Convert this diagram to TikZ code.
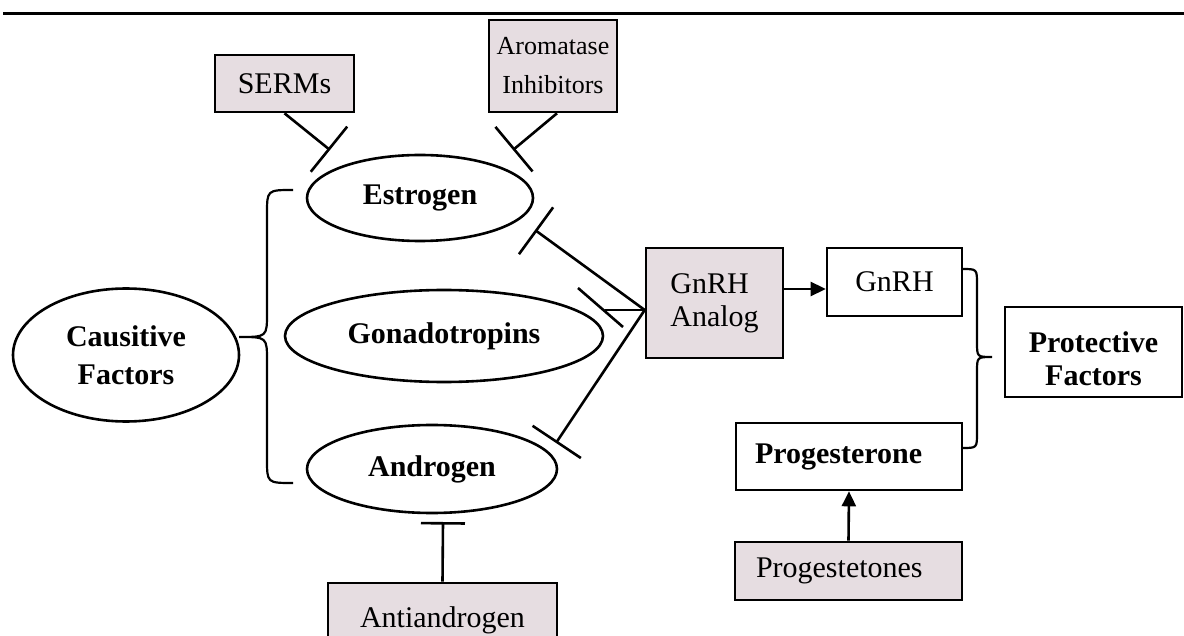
\documentclass[tikz,border=0pt]{standalone}
\usepackage{fontspec}
\setmainfont{Liberation Serif}
\usetikzlibrary{shapes.geometric,arrows.meta}
\definecolor{boxpink}{RGB}{230,221,225}
\begin{document}
\begin{tikzpicture}[x=0.5pt,y=-0.5pt, line width=1.3pt,
  pinkbox/.style={draw, fill=boxpink, rectangle, inner sep=0pt, align=center, font=\fontsize{15}{16.5}\selectfont},
  whitebox/.style={draw, fill=white, rectangle, inner sep=0pt, align=center, font=\fontsize{15}{16.5}\selectfont\bfseries},
  oval/.style={draw, ellipse, inner sep=0pt, align=center, font=\fontsize{15}{19}\selectfont\bfseries},
  inhib/.style={-{Bar[width=29pt]}},
  act/.style={-{Triangle[length=7.5pt,width=7pt]}},
  bracepath/.style={line width=1.1pt}]
\useasboundingbox (0,0) rectangle (1184,636);
\clip (0,0) rectangle (1184,636);

% top rule
\coordinate (r1) at (3,14);
\coordinate (r2) at (1184,14);
\draw[line width=1.5pt] (r1) -- (r2);

% ellipses
\node[oval, minimum width=113pt, minimum height=66.5pt] (cf) at (126,355) {Causitive\\Factors};
\node[oval, minimum width=113pt, minimum height=43pt] (es) at (420,198) {Estrogen};
\node[oval, minimum width=159pt, minimum height=46pt] (go) at (444,336) {Gonadotropins};
\node[oval, minimum width=125pt, minimum height=44pt] (an) at (432,469) {Androgen};

% pink boxes
\node[pinkbox, minimum width=69.5pt, minimum height=28.5pt] (serm) at (284.5,83.5) {SERMs};
\node[pinkbox, minimum width=64pt, minimum height=46pt, font=\fontsize{13}{19.5}\selectfont] (arom) at (553,66) {Aromatase\\Inhibitors};
\node[pinkbox, minimum width=68.5pt, minimum height=55pt, align=left] (ga) at (714.5,303) {GnRH\\Analog};
\node[pinkbox, minimum width=113.5pt, minimum height=29pt, text width=92.5pt, inner xsep=10.5pt, align=left] (pt) at (848.5,571) {Progestetones};
\node[pinkbox, minimum width=114.5pt, minimum height=37pt] (aa) at (442.5,620) {Antiandrogen};

% white boxes
\node[whitebox, minimum width=67.5pt, minimum height=34pt, font=\fontsize{15}{16}\selectfont] (gn) at (894.5,282) {GnRH};
\node[whitebox, minimum width=88.5pt, minimum height=45pt] (pf) at (1093.5,352) {\rule{0pt}{17pt}Protective\\Factors};
\node[whitebox, minimum width=113pt, minimum height=33.5pt, text width=94pt, inner xsep=9.5pt, align=left] (pg) at (849,456.5) {Progesterone};

% inhibition connectors
\coordinate (sE) at (330,150);
\draw[inhib] (serm.south) -- (sE);
\coordinate (aE) at (513,150);
\draw[inhib] ([xshift=2pt]arom.south) -- (aE);

\coordinate (conv) at ([yshift=-3.5pt]ga.west);
\coordinate (eE) at (535,230);
\draw[inhib] (conv) -- (eE);
\coordinate (nE) at (605,310);
\draw (conv) -- (nE);
\coordinate (gb1) at (578,288);
\coordinate (gb2) at (623,327);
\draw (gb1) -- (gb2);
\coordinate (dE) at (556,443);
\draw[inhib] (conv) -- (dE);

\coordinate (xE) at (443,522);
\draw[-{Bar[width=22pt]}] (aa.north) -- (xE);

% activation arrows
\draw[act] ([yshift=7pt]ga.east) -- ([yshift=-3.5pt]gn.west);
\draw[act] (pt.north) -- (pg.south);

% left brace
\coordinate (lb1) at (293,190);
\coordinate (lbt) at (239,337);
\coordinate (lb2) at (293,483);
\draw[bracepath] (lb1) .. controls (267,190) .. (267,214) -- (267,313) .. controls (267,337) .. (lbt)
  .. controls (267,337) .. (267,361) -- (267,459) .. controls (267,483) .. (lb2);

% right brace
\coordinate (rb1) at (962,269);
\coordinate (rbt) at (992,357);
\coordinate (rb2) at (962,448);
\draw[bracepath] (rb1) .. controls (977,269) .. (977,284) -- (977,342) .. controls (977,357) .. (rbt)
  .. controls (977,357) .. (977,372) -- (977,433) .. controls (977,448) .. (rb2);
\end{tikzpicture}
\end{document}
